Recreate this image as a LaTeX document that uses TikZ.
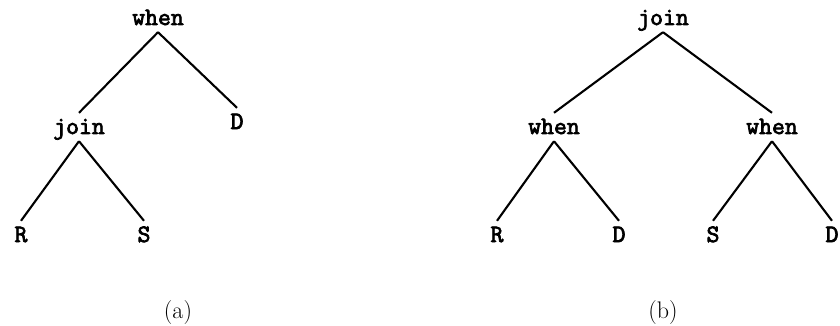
\documentclass[tikz,border=0pt]{standalone}
\usepackage{fontspec}
\newfontfamily\treefont[FakeBold=3]{Latin Modern Mono}
\begin{document}
\begin{tikzpicture}[x=1pt,y=-1pt,
  lbl/.style={font=\treefont\fontsize{25}{25}\selectfont, anchor=base,
    text height=14pt, text depth=0pt, inner xsep=0pt, inner ysep=7pt},
  edge/.style={line width=2.1pt},
  captext/.style={font=\fontsize{24}{24}\selectfont, anchor=base, inner sep=0pt}]
\useasboundingbox (0,0) rectangle (840,326);
% tree (a)
\node[lbl] (aw) at (158,25) {when};
\node[lbl] (aj) at (79,134) {join};
\node[lbl] (ad) at (237,129) {D};
\node[lbl] (ar) at (21,242) {R};
\node[lbl] (as) at (144,242) {S};
\node[captext] (ca) at (178,318) {(a)};
\draw[edge] (aw.south) -- (aj.north);
\draw[edge] (aw.south) -- (ad.north);
\draw[edge] (aj.south) -- (ar.north);
\draw[edge] (aj.south) -- (as.north);
% tree (b)
\node[lbl] (bj) at (663,25) {join};
\node[lbl] (bw1) at (554,134) {when};
\node[lbl] (bw2) at (772,134) {when};
\node[lbl] (br) at (497,242) {R};
\node[lbl] (bd1) at (619,242) {D};
\node[lbl] (bs) at (713,242) {S};
\node[lbl] (bd2) at (832,242) {D};
\node[captext] (cb) at (663,318) {(b)};
\draw[edge] (bj.south) -- (bw1.north);
\draw[edge] (bj.south) -- (bw2.north);
\draw[edge] (bw1.south) -- (br.north);
\draw[edge] (bw1.south) -- (bd1.north);
\draw[edge] (bw2.south) -- (bs.north);
\draw[edge] (bw2.south) -- (bd2.north);
\end{tikzpicture}
\end{document}
